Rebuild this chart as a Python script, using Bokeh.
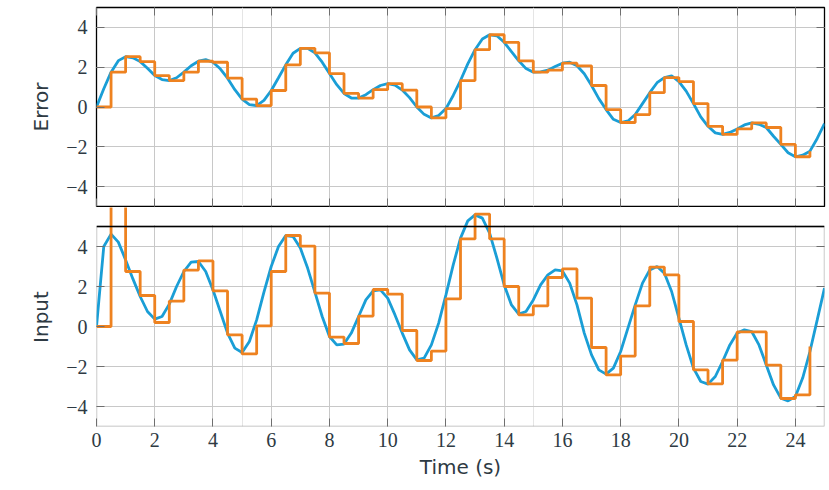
from bokeh.plotting import figure
from bokeh.layouts import column
from bokeh.models import Range1d, FixedTicker, LinearAxis, BoxAnnotation, Grid, Span
from bokeh.embed import file_html
from bokeh.resources import INLINE

# ---- data ----
sample_t = [i * 0.5 for i in range(50)]          # controller sample instants (s)
cont_t = [i * 0.25 for i in range(101)]          # continuous-signal read points (s)

error_cont = [0.0, 0.92, 1.75, 2.33, 2.53, 2.47, 2.28, 1.95, 1.58, 1.38, 1.33, 1.47, 1.75, 2.07, 2.3, 2.38,
              2.25, 1.92, 1.45, 0.87, 0.4, 0.12, 0.07, 0.33, 0.83, 1.47, 2.12, 2.7, 2.95, 2.95, 2.72, 2.25,
              1.68, 1.12, 0.68, 0.45, 0.45, 0.62, 0.87, 1.08, 1.17, 1.1, 0.85, 0.47, 0.0, -0.37, -0.55, -0.43,
              -0.08, 0.58, 1.33, 2.17, 2.88, 3.42, 3.63, 3.58, 3.25, 2.78, 2.32, 1.93, 1.75, 1.77, 1.85, 2.03,
              2.2, 2.25, 2.07, 1.67, 1.08, 0.42, -0.13, -0.62, -0.78, -0.7, -0.38, 0.17, 0.72, 1.22, 1.48, 1.57,
              1.28, 0.8, 0.17, -0.5, -0.97, -1.3, -1.38, -1.28, -1.1, -0.9, -0.8, -0.87, -1.03, -1.47, -1.88,
              -2.3, -2.5, -2.42, -2.22, -1.58, -0.83]

error_sampled = [0.0, 1.75, 2.53, 2.28, 1.58, 1.33, 1.75, 2.3, 2.25, 1.45, 0.4, 0.07, 0.83, 2.12, 2.95, 2.72,
                 1.68, 0.68, 0.45, 0.87, 1.17, 0.85, 0.0, -0.55, -0.08, 1.33, 2.88, 3.63, 3.25, 2.32, 1.75, 1.85,
                 2.2, 2.07, 1.08, -0.13, -0.78, -0.38, 0.72, 1.48, 1.28, 0.17, -0.97, -1.38, -1.1, -0.8, -1.03,
                 -1.88, -2.5, -2.22]

input_cont = [0.0, 4.0, 4.62, 4.22, 3.33, 2.38, 1.5, 0.75, 0.37, 0.5, 1.12, 2.0, 2.75, 3.22, 3.25, 2.75,
              1.83, 0.75, -0.33, -1.08, -1.3, -0.75, 0.33, 1.72, 3.0, 4.0, 4.55, 4.5, 3.92, 2.92, 1.72, 0.5,
              -0.5, -0.92, -0.88, -0.33, 0.5, 1.33, 1.78, 1.83, 1.42, 0.58, -0.33, -1.17, -1.67, -1.58, -0.92,
              0.17, 1.58, 3.08, 4.42, 5.28, 5.58, 5.42, 4.67, 3.42, 2.08, 1.08, 0.62, 0.75, 1.33, 2.08, 2.58,
              2.83, 2.78, 2.17, 1.08, -0.33, -1.42, -2.17, -2.38, -2.08, -1.25, -0.08, 1.08, 2.17, 2.83, 3.0,
              2.67, 1.75, 0.42, -0.92, -2.08, -2.75, -2.88, -2.5, -1.75, -0.92, -0.33, -0.17, -0.25, -0.92,
              -1.92, -2.92, -3.58, -3.72, -3.5, -2.58, -1.25, 0.33, 1.92]

input_sampled = [0.0, 6.1, 2.75, 1.55, 0.2, 1.27, 2.82, 3.28, 1.78, -0.42, -1.37, 0.03, 2.75, 4.55, 4.02, 1.67,
                 -0.53, -0.85, 0.52, 1.85, 1.62, -0.2, -1.7, -1.23, 1.38, 4.38, 5.62, 4.38, 2.0, 0.58, 1.03,
                 2.45, 2.88, 1.42, -1.05, -2.42, -1.48, 1.03, 2.97, 2.58, 0.25, -2.17, -2.87, -1.68, -0.27,
                 -0.27, -1.93, -3.6, -3.42, -1.0]

x_ticks = [0, 2, 4, 6, 8, 10, 12, 14, 16, 18, 20, 22, 24]
y_ticks = [-4, -2, 0, 2, 4]
y_tick_labels = {-4: "\u22124", -2: "\u22122", 0: "0", 2: "2", 4: "4"}

# ---- style ----
BLUE = "#1a9ed6"
ORANGE = "#ee8220"
GRID = "#c8c8c8"
TICK = "#6e6e6e"
TXT = "#2e3a43"
TICK_FONT = "Liberation Serif"
LABEL_FONT = "DejaVu Sans"
FRAME_W = 728


def mirror_axis(ticker, ticks):
    # tick marks only (labels blank), used for the mirrored inner ticks
    return LinearAxis(ticker=ticker, bounds=(-5, 5) if ticks is y_ticks else "auto",
                      axis_line_color=None, major_tick_in=8, major_tick_out=0,
                      major_tick_line_color=TICK, minor_tick_line_color=None,
                      major_label_overrides={t: "" for t in ticks},
                      major_label_text_font_size="1px", major_label_standoff=0)


def add_axes(p, ylabel, xlabels):
    yt = FixedTicker(ticks=y_ticks)
    xt = FixedTicker(ticks=x_ticks)
    left = LinearAxis(ticker=yt, bounds=(-5, 5), axis_line_color=None,
                      major_tick_in=8, major_tick_out=0, major_tick_line_color=TICK,
                      minor_tick_line_color=None,
                      major_label_overrides=y_tick_labels,
                      major_label_text_font=TICK_FONT, major_label_text_font_size="20px",
                      major_label_text_color=TXT, major_label_standoff=9,
                      axis_label=ylabel, axis_label_text_font=LABEL_FONT,
                      axis_label_text_font_size="20px", axis_label_text_font_style="normal",
                      axis_label_text_color=TXT, axis_label_standoff=10)
    p.add_layout(left, "left")
    p.add_layout(mirror_axis(yt, y_ticks), "right")
    if xlabels:
        below = LinearAxis(ticker=xt, axis_line_color=None,
                           major_tick_in=8, major_tick_out=0, major_tick_line_color=TICK,
                           minor_tick_line_color=None,
                           major_label_text_font=TICK_FONT, major_label_text_font_size="20px",
                           major_label_text_color=TXT, major_label_standoff=6,
                           axis_label="Time (s)", axis_label_text_font=LABEL_FONT,
                           axis_label_text_font_size="20px", axis_label_text_font_style="normal",
                           axis_label_text_color=TXT, axis_label_standoff=5)
        p.add_layout(below, "below")
    else:
        p.add_layout(mirror_axis(xt, x_ticks), "below")
        p.add_layout(mirror_axis(xt, x_ticks), "above")
    p.add_layout(Grid(dimension=0, ticker=xt, grid_line_color=GRID, grid_line_width=1))
    p.add_layout(Grid(dimension=1, ticker=yt, grid_line_color=GRID, grid_line_width=1))


# ---- top panel: Error ----
p1 = figure(frame_width=FRAME_W, frame_height=199, x_range=Range1d(0, 25), y_range=Range1d(-5, 5),
            x_axis_location=None, y_axis_location=None, output_backend="svg", toolbar_location=None,
            min_border_left=96, min_border_right=4, min_border_top=7, min_border_bottom=1,
            outline_line_color="black", outline_line_width=1.3, background_fill_color="white")
add_axes(p1, "Error", False)
p1.line(cont_t, error_cont, line_color=BLUE, line_width=2.8)
p1.step(sample_t, error_sampled, mode="after", line_color=ORANGE, line_width=2.8)

# ---- bottom panel: Input (range extends into the gap so overshoot is not clipped) ----
p2 = figure(frame_width=FRAME_W, frame_height=219, x_range=Range1d(0, 25), y_range=Range1d(-5, 5.95),
            x_axis_location=None, y_axis_location=None, output_backend="svg", toolbar_location=None,
            min_border_left=96, min_border_right=4, min_border_top=0, min_border_bottom=0,
            outline_line_color=None, background_fill_color="white")
add_axes(p2, "Input", True)
p2.add_layout(BoxAnnotation(bottom=5.06, fill_color="white", fill_alpha=1.0, line_color=None, level="underlay"))
p2.add_layout(BoxAnnotation(left=0, right=25, bottom=-5, top=5, fill_alpha=0, fill_color=None,
                            line_color="black", line_width=1.4, level="underlay"))
p2.add_layout(Span(location=5, dimension="width", line_color="black", line_width=1.4, level="guide"))
p2.line(cont_t, input_cont, line_color=BLUE, line_width=2.8)
p2.step(sample_t, input_sampled, mode="after", line_color=ORANGE, line_width=2.8)

layout = column(p1, p2, spacing=0)
open("out.html", "w").write(file_html(layout, INLINE))
